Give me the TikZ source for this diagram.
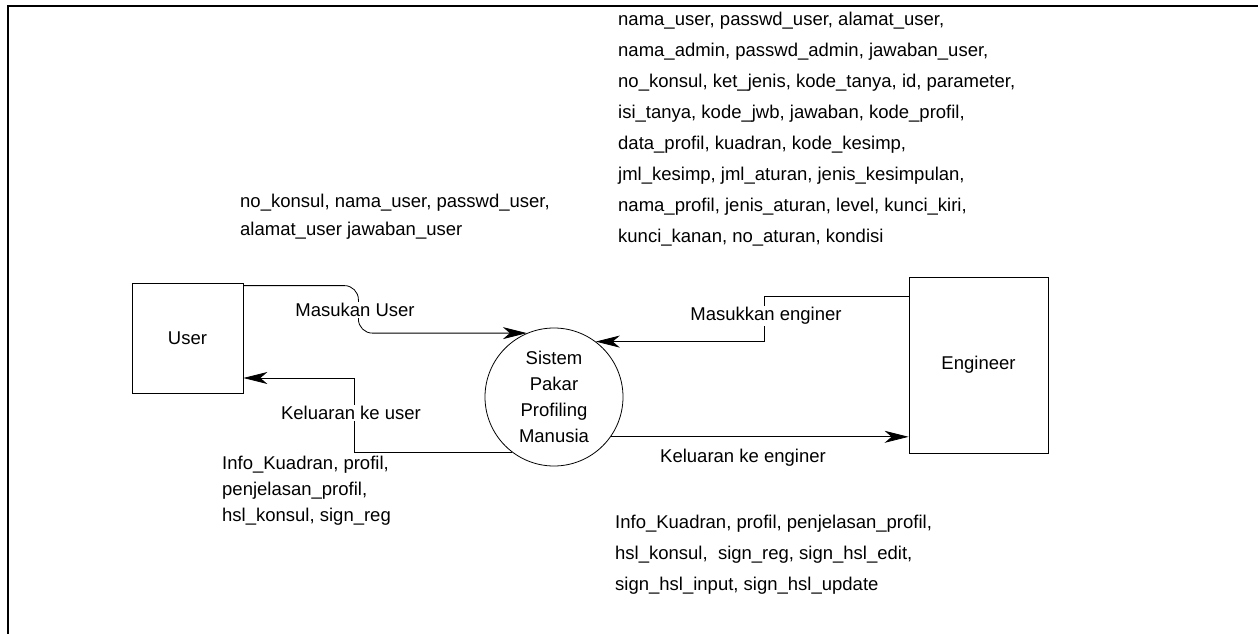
\documentclass[tikz,border=0pt]{standalone}
\usepackage{fontspec}
\setmainfont{Liberation Sans}
\usetikzlibrary{arrows.meta}

\begin{document}
\begin{tikzpicture}[x=1pt,y=-1pt,
    entity/.style={rectangle, draw, line width=0.8pt, inner sep=0pt, font=\fontsize{18.5}{26}\selectfont},
    process/.style={circle, draw, line width=0.8pt, minimum size=138pt, inner sep=0pt, align=center, font=\fontsize{18.5}{26}\selectfont},
    flow/.style={draw, line width=0.8pt, -{Stealth[length=24pt,width=12pt,inset=7pt]}},
    flowlabel/.style={fill=white, inner sep=1pt, font=\fontsize{18.5}{22}\selectfont},
    datalist/.style={anchor=north west, align=left, inner sep=0pt}]
    \useasboundingbox (0,0) rectangle (1258,634);
    \draw[line width=2.5pt] (8,634) -- (8,6) -- (1258,6);

    \node at (187.5, 338) [entity, minimum width=111pt, minimum height=110pt] (user) {User};
    \node at (554, 397) [process] (sys) {Sistem\\Pakar\\Profiling\\Manusia};
    \node at (978.5, 365) [entity, minimum width=139pt, minimum height=176pt] (eng) {Engineer};

    \draw[flow, rounded corners=14pt] ([yshift=-3pt]user.north east) -- ++(115,0) |- (sys.113);
    \node at (355, 310) [flowlabel] (inuser) {Masukan User};

    \draw[flow] (sys.233) -| (354,378) -- (user.east |- 0,378);
    \node at (351, 413) [flowlabel] (outuser) {Keluaran ke user};

    \draw[flow] (eng.west |- 0,296) -- ++(-144,0) |- (sys.53);
    \node at (766, 316) [flowlabel] (ineng) {Masukkan enginer};

    \draw[flow] (sys.-35) -- (eng.west |- sys.-35);
    \node at (743, 458) [flowlabel] (outeng) {Keluaran ke enginer};

    \node at (618, 11.5) [datalist, font=\fontsize{18.5}{31}\selectfont] (engdata) {%
        nama\_user, passwd\_user, alamat\_user,\\
        nama\_admin, passwd\_admin, jawaban\_user,\\
        no\_konsul, ket\_jenis, kode\_tanya, id, parameter,\\
        isi\_tanya, kode\_jwb, jawaban, kode\_profil,\\
        data\_profil, kuadran, kode\_kesimp,\\
        jml\_kesimp, jml\_aturan, jenis\_kesimpulan,\\
        nama\_profil, jenis\_aturan, level, kunci\_kiri,\\
        kunci\_kanan, no\_aturan, kondisi};
    \node at (240, 193.5) [datalist, font=\fontsize{18.5}{28}\selectfont] (userdata) {%
        no\_konsul, nama\_user, passwd\_user,\\
        alamat\_user jawaban\_user};
    \node at (222, 455.5) [datalist, font=\fontsize{18.5}{26}\selectfont] (userout) {%
        Info\_Kuadran, profil,\\
        penjelasan\_profil,\\
        hsl\_konsul, sign\_reg};
    \node at (615, 514.5) [datalist, font=\fontsize{18.5}{31}\selectfont] (engout) {%
        Info\_Kuadran, profil, penjelasan\_profil,\\
        hsl\_konsul,\ \ sign\_reg, sign\_hsl\_edit,\\
        sign\_hsl\_input, sign\_hsl\_update};
\end{tikzpicture}
\end{document}
